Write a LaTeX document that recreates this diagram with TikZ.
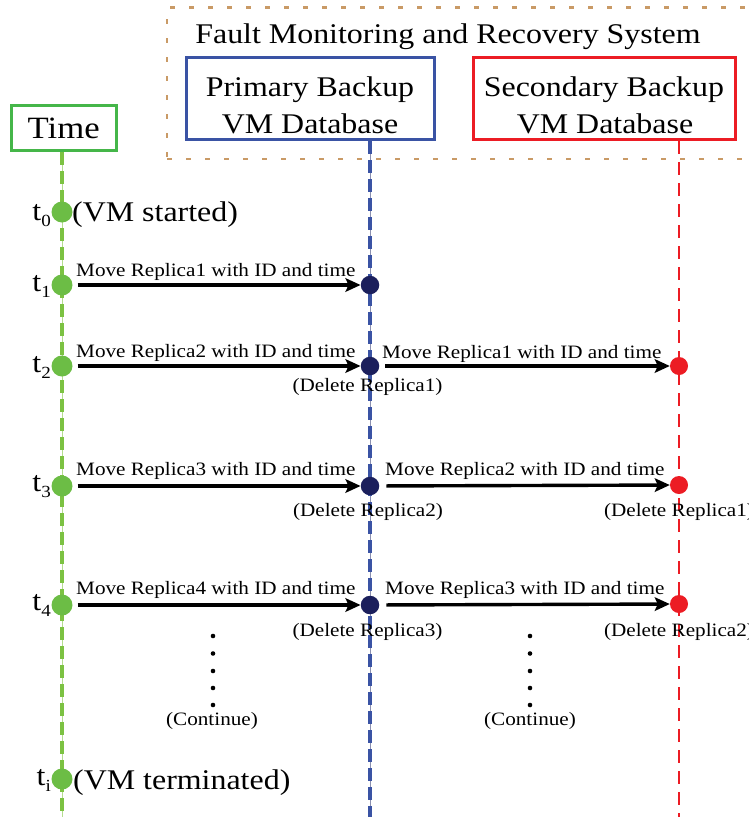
\documentclass[tikz,border=0pt]{standalone}
\usepackage{fontspec}
\setmainfont{Liberation Serif}[FakeStretch=1.12]
\usetikzlibrary{arrows.meta,backgrounds}
\definecolor{boxgreen}{HTML}{45B649}
\definecolor{linegreen}{HTML}{7CC242}
\definecolor{thingreen}{HTML}{B5DD8F}
\definecolor{dotgreen}{HTML}{6CBD45}
\definecolor{boxblue}{HTML}{3A53A4}
\definecolor{thinblue}{HTML}{8A8FB0}
\definecolor{navydot}{HTML}{1B1F5C}
\definecolor{tred}{HTML}{EC1C24}
\definecolor{tan}{HTML}{C99A66}
\newcommand{\tlab}[1]{t\raisebox{-6pt}{\fontsize{17}{17}\selectfont #1}}
\tikzset{
  bigtxt/.style={font=\fontsize{28.5}{34}\selectfont, inner sep=0pt},
  smalltxt/.style={font=\fontsize{18.9}{22}\selectfont, inner sep=0pt},
  gdot/.style={circle, fill=dotgreen, minimum size=21pt, inner sep=0pt},
  ndot/.style={circle, fill=navydot, minimum size=18.5pt, inner sep=0pt},
  rdot/.style={circle, fill=tred, minimum size=18pt, inner sep=0pt},
  cdot/.style={circle, fill=black, minimum size=4.6pt, inner sep=0pt},
  arr/.style={line width=3.4pt, -{Stealth[length=15pt,width=13.5pt,inset=3pt]}},
  hdrbox/.style={draw, line width=3pt, inner sep=0pt},
}
\begin{document}
\begin{tikzpicture}[x=1pt,y=-1pt]
\useasboundingbox (0,0) rectangle (749,817);
\coordinate (bot) at (0,817);
% frame
\node[draw=tan, line width=2.8pt, dash pattern=on 5pt off 14pt, minimum width=593pt, minimum height=151.5pt, inner sep=0pt] (frame) at (463.5,83.25) {};
\node[bigtxt, anchor=base] (title) at (448,43) {Fault Monitoring and Recovery System};
% header boxes
\node[hdrbox, draw=boxgreen, minimum width=105.5pt, minimum height=45pt, font=\fontsize{31}{36}\selectfont] (tb) at (63.75,128) {Time};
\node[hdrbox, draw=boxblue, minimum width=248pt, minimum height=82pt] (pb) at (310.5,98.5) {};
\node[bigtxt, anchor=base] (pbt1) at (310,96) {Primary Backup};
\node[bigtxt, anchor=base] (pbt2) at (310,133) {VM Database};
\node[hdrbox, draw=tred, minimum width=262pt, minimum height=82pt] (sb) at (604.5,98.5) {};
\node[bigtxt, anchor=base] (sbt1) at (604,96) {Secondary Backup};
\node[bigtxt, anchor=base] (sbt2) at (605,133) {VM Database};
% event dots
\node[gdot] (g0) at (62,212) {};
\node[gdot] (g1) at (62,285) {};
\node[gdot] (g2) at (62,366) {};
\node[gdot] (g3) at (62,486) {};
\node[gdot] (g4) at (62,605) {};
\node[gdot] (gi) at (62,779) {};
\node[ndot] (n1) at (370,285) {};
\node[ndot] (n2) at (370,366) {};
\node[ndot] (n3) at (370,486) {};
\node[ndot] (n4) at (370,605) {};
\node[rdot] (r2) at (679,366) {};
\node[rdot] (r3) at (679,485) {};
\node[rdot] (r4) at (679,604) {};
% lifelines
\begin{scope}[on background layer]
\draw[thingreen, line width=1pt] (tb.south -| g0) -- (g0 |- bot);
\draw[linegreen, line width=3.3pt, dash pattern=on 13pt off 6pt] (tb.south -| g0) -- (g0 |- bot);
\draw[thinblue, line width=1pt] (pb.south -| n1) -- (n1 |- bot);
\draw[boxblue, line width=3.1pt, dash pattern=on 13pt off 6pt] (pb.south -| n1) -- (n1 |- bot);
\draw[tred, line width=2.9pt, dash pattern=on 13pt off 8pt] (sb.south -| r2) -- (r2 |- bot);
\end{scope}
% time labels
\node[bigtxt, anchor=base east] (lt0) at (51,220) {\tlab{0}};
\node[bigtxt, anchor=base east] (lt1) at (51,291) {\tlab{1}};
\node[bigtxt, anchor=base east] (lt2) at (51,372) {\tlab{2}};
\node[bigtxt, anchor=base east] (lt3) at (51,491) {\tlab{3}};
\node[bigtxt, anchor=base east] (lt4) at (51,610) {\tlab{4}};
\node[bigtxt, anchor=base east] (lti) at (51,785) {\tlab{i}};
\node[bigtxt, anchor=base west] (vms) at (72,221.5) {(VM started)};
\node[bigtxt, anchor=base west] (vmt) at (73,789) {(VM terminated)};
% arrows
\draw[arr, shorten <=5pt] (g1) -- (n1);
\draw[arr, shorten <=5pt] (g2) -- (n2);
\draw[arr, shorten <=5pt] (g3) -- (n3);
\draw[arr, shorten <=5pt] (g4) -- (n4);
\draw[arr, shorten <=6pt] (n2) -- (r2);
\draw[arr, shorten <=7pt] (n3) -- (r3);
\draw[arr, shorten <=7pt] (n4) -- (r4);
% arrow labels
\node[smalltxt, anchor=base west] (m1) at (76,276) {Move Replica1 with ID and time};
\node[smalltxt, anchor=base west] (m2) at (76,357) {Move Replica2 with ID and time};
\node[smalltxt, anchor=base west] (m3) at (76,475) {Move Replica3 with ID and time};
\node[smalltxt, anchor=base west] (m4) at (76,594) {Move Replica4 with ID and time};
\node[smalltxt, anchor=base west] (s2) at (382,358) {Move Replica1 with ID and time};
\node[smalltxt, anchor=base west] (s3) at (385,475) {Move Replica2 with ID and time};
\node[smalltxt, anchor=base west] (s4) at (385,594) {Move Replica3 with ID and time};
% delete labels
\node[smalltxt, anchor=base] (d2) at (367.5,391) {(Delete Replica1)};
\node[smalltxt, anchor=base] (d3) at (368,516) {(Delete Replica2)};
\node[smalltxt, anchor=base] (d4) at (367.5,636) {(Delete Replica3)};
\node[smalltxt, anchor=base] (e3) at (679,516) {(Delete Replica1)};
\node[smalltxt, anchor=base] (e4) at (679,636) {(Delete Replica2)};
% continuation
\foreach \yy [count=\k] in {636,653.5,671,688,705} {
  \node[cdot] (ca\k) at (213,\yy) {};
  \node[cdot] (cb\k) at (530,\yy) {};
}
\node[smalltxt, anchor=base] (c1) at (212,725) {(Continue)};
\node[smalltxt, anchor=base] (c2) at (530,725) {(Continue)};
\end{tikzpicture}
\end{document}
